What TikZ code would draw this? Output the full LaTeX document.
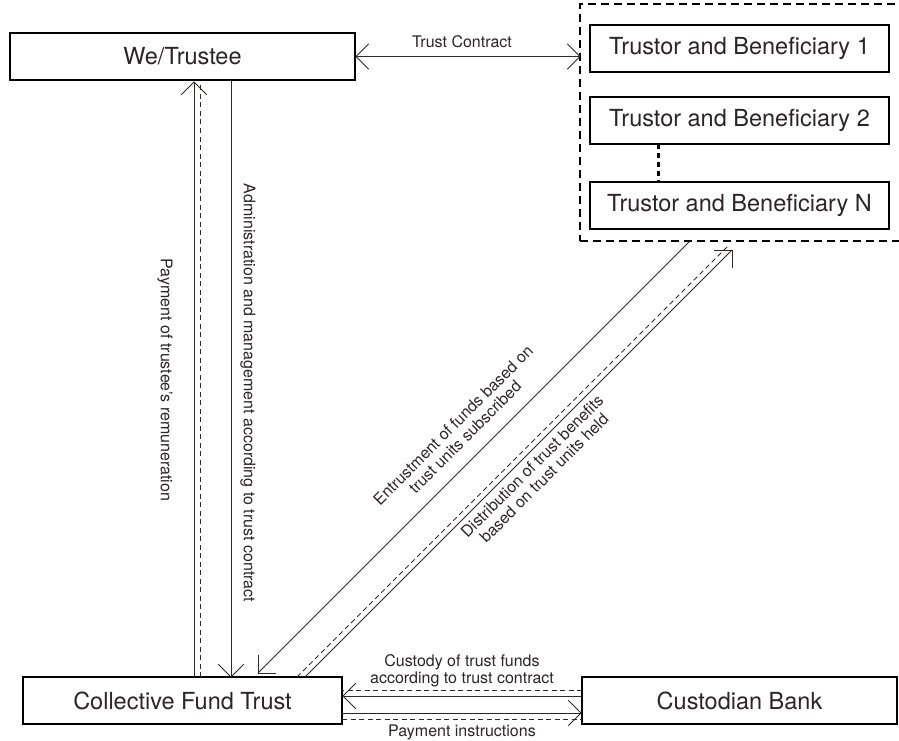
\documentclass[tikz,border=0pt]{standalone}
\usepackage{fontspec}
\setmainfont{TeX Gyre Heros}
\usetikzlibrary{calc}
\definecolor{ink}{HTML}{2A2627}
\definecolor{lin}{HTML}{2E2A29}
\newcommand\mybarb[2]{\draw[conn] ($(#1)!18pt!45:(#2)$) -- (#1) -- ($(#1)!18pt!-45:(#2)$);}
\begin{document}
\begin{tikzpicture}[x=1pt,y=-1pt,
  box/.style={draw=black, line width=2.6pt, fill=white, inner sep=0pt, outer sep=0pt,
    minimum height=47pt, text=ink, font=\fontsize{23.5}{28}\selectfont},
  lbl/.style={text=ink, font=\fontsize{16}{17}\selectfont, align=center, inner sep=0pt},
  conn/.style={draw=lin, line width=1pt},
  dconn/.style={draw=lin, line width=1pt, dash pattern=on 5pt off 3.5pt}
]
\useasboundingbox (0,0) rectangle (899,741);

% group
\node[draw=black, line width=2.6pt, dash pattern=on 8pt off 5pt, inner sep=0pt, outer sep=0pt,
  minimum width=325pt, minimum height=237pt] (grp) at (742.5,122.5) {};

% nodes
\node[box, minimum width=345pt] (we) at (182.5,56.5) {We/Trustee};
\node[box, minimum width=299pt] (t1) at (739.5,48.5) {Trustor and Beneficiary 1};
\node[box, minimum width=299pt] (t2) at (739.5,120.5) {Trustor and Beneficiary 2};
\node[box, minimum width=299pt] (tn) at (739.5,205.5) {Trustor and Beneficiary N};
\node[box, minimum width=319pt] (cft) at (182.5,700.5) {Collective Fund Trust};
\node[box, minimum width=315pt] (cb) at (739.5,700.5) {Custodian Bank};

% dotted link
\coordinate (xd) at (658,0);
\draw[line width=3pt, dash pattern=on 5pt off 4pt] (t2.south -| xd) -- (tn.north -| xd);

% trust contract
\coordinate (tcL) at ([xshift=1pt]we.east);
\coordinate (tcR) at (we.east -| grp.west);
\draw[conn] (tcL) -- (tcR);
\mybarb{tcL}{tcR}
\mybarb{tcR}{tcL}
\node[lbl] (ltc) at (462,42) {Trust Contract};

% vertical arrows
\coordinate (xp) at (194,0);
\coordinate (xq) at (200,0);
\coordinate (xa) at (231,0);
\coordinate (yq) at (0,85);
\coordinate (pB) at (cft.north -| xp);
\coordinate (pT) at ([yshift=-2pt]we.south -| xp);
\draw[conn] (pB) -- (pT);
\mybarb{pT}{pB}
\draw[dconn] (cft.north -| xq) -- (yq -| xq);
\coordinate (aT) at (we.south -| xa);
\coordinate (aB) at (cft.north -| xa);
\draw[conn] (aT) -- (aB);
\mybarb{aB}{aT}
\node[lbl, rotate=-90] (lpay) at (165,380) {Payment of trustee's remuneration};
\node[lbl, rotate=-90] (ladm) at (248,393) {Administration and management according to trust contract};

% diagonal arrows
\coordinate (e1) at (690,241);
\coordinate (e2) at (258,673);
\draw[conn] (e1) -- (e2);
\mybarb{e2}{e1}
\coordinate (d1) at (305,677);
\coordinate (d2) at (732,250);
\draw[conn] (d1) -- (d2);
\mybarb{d2}{d1}
\coordinate (f1) at (297,677);
\coordinate (f2) at (727,247);
\draw[dconn] (f1) -- (f2);
\node[lbl, rotate=45] (lent) at (459,431) {Entrustment of funds based on\\trust units subscribed};
\node[lbl, rotate=45] (ldis) at (538,472) {Distribution of trust benefits\\based on trust units held};

% custody / payment
\coordinate (y1) at (0,690);
\coordinate (y2) at (0,696);
\coordinate (y3) at (0,713);
\coordinate (y4) at (0,719);
\draw[dconn] (cb.west |- y1) -- (cft.east |- y1);
\coordinate (cR) at (cb.west |- y2);
\coordinate (cL) at ([xshift=1pt]cft.east |- y2);
\draw[conn] (cR) -- (cL);
\mybarb{cL}{cR}
\coordinate (pL) at (cft.east |- y3);
\coordinate (pR) at ([xshift=-1pt]cb.west |- y3);
\draw[conn] (pL) -- (pR);
\mybarb{pR}{pL}
\draw[dconn] (cft.east |- y4) -- (cb.west |- y4);
\node[lbl] (lcus) at (462,671) {Custody of trust funds\\according to trust contract};
\node[lbl] (lpi) at (462,732) {Payment instructions};
\end{tikzpicture}
\end{document}
